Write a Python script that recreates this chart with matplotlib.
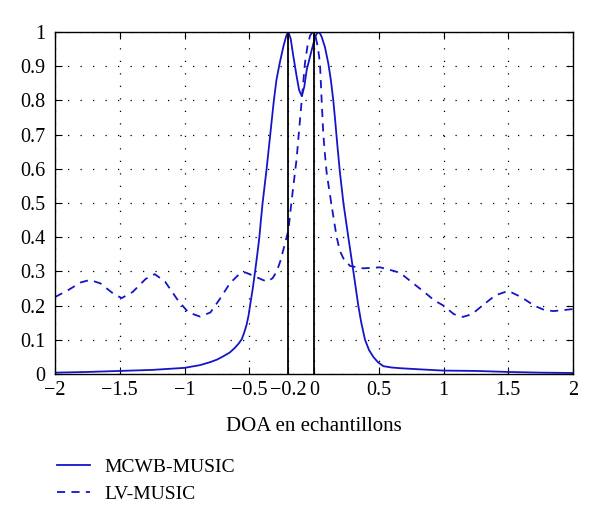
import matplotlib.pyplot as plt

plt.rcParams['font.family'] = ['Liberation Serif', 'DejaVu Serif']

# MCWB-MUSIC (trait plein)
mcwb_x = [-2.0, -1.75, -1.5, -1.25, -1.0, -0.88, -0.8, -0.75, -0.7, -0.65, -0.61, -0.58,
          -0.558, -0.54, -0.52, -0.505, -0.494, -0.473, -0.455, -0.438, -0.422, -0.41,
          -0.397, -0.366, -0.338, -0.31, -0.29, -0.265, -0.235, -0.213, -0.198, -0.18,
          -0.16, -0.134, -0.115, -0.095, -0.075, -0.056, -0.036, -0.018, 0.005, 0.02,
          0.041, 0.06, 0.085, 0.11, 0.13, 0.149, 0.165, 0.18, 0.2, 0.227, 0.265, 0.304,
          0.342, 0.365, 0.394, 0.425, 0.458, 0.495, 0.535, 0.6, 0.664, 0.8, 1.0, 1.25,
          1.5, 1.75, 2.0]
mcwb_y = [0.004, 0.006, 0.009, 0.012, 0.018, 0.026, 0.035, 0.042, 0.052, 0.063, 0.077, 0.09,
          0.102, 0.12, 0.145, 0.172, 0.2, 0.25, 0.3, 0.35, 0.4, 0.45,
          0.5, 0.6, 0.7, 0.8, 0.86, 0.909, 0.96, 0.99, 1.0, 0.98,
          0.93, 0.87, 0.83, 0.813, 0.84, 0.89, 0.92, 0.947, 0.98, 0.995,
          1.0, 0.985, 0.955, 0.909, 0.86, 0.8, 0.735, 0.67, 0.59, 0.5, 0.4, 0.3,
          0.2, 0.15, 0.1, 0.07, 0.05, 0.034, 0.023, 0.019, 0.017, 0.014, 0.01, 0.009,
          0.006, 0.004, 0.003]

# LV-MUSIC (tirets)
lv_x = [-2.0, -1.9, -1.8, -1.73, -1.65, -1.55, -1.485, -1.4, -1.3, -1.23, -1.15, -1.05,
        -0.97, -0.88, -0.8, -0.726, -0.65, -0.57, -0.53, -0.455, -0.365, -0.32, -0.288,
        -0.26, -0.237, -0.198, -0.172, -0.134, -0.125, -0.095, -0.07, -0.05, -0.03, -0.01,
        0.01, 0.03, 0.046, 0.059, 0.072, 0.085, 0.098, 0.137, 0.175, 0.2, 0.227, 0.278,
        0.38, 0.51, 0.6, 0.664, 0.75, 0.85, 0.93, 1.0, 1.08, 1.15, 1.22, 1.3, 1.4, 1.5,
        1.6, 1.7, 1.78, 1.85, 1.93, 2.0]
lv_y = [0.225, 0.245, 0.268, 0.275, 0.265, 0.235, 0.222, 0.24, 0.278, 0.292, 0.27, 0.215,
        0.18, 0.168, 0.18, 0.22, 0.265, 0.295, 0.297, 0.285, 0.27, 0.28, 0.3,
        0.33, 0.363, 0.42, 0.51, 0.63, 0.67, 0.8, 0.909, 0.96, 0.99, 1.0,
        0.99, 0.955, 0.909, 0.8, 0.7, 0.64, 0.587, 0.49, 0.4, 0.36, 0.338, 0.316,
        0.309, 0.312, 0.303, 0.296, 0.27, 0.24, 0.215, 0.2, 0.175, 0.167, 0.175, 0.2, 0.23, 0.243,
        0.225, 0.2, 0.187, 0.184, 0.187, 0.19]

x_ticks = [-2, -1.5, -1, -0.5, -0.2, 0, 0.5, 1, 1.5, 2]
x_labels = ['−2', '−1.5', '−1', '−0.5', '−0.2', '0', '0.5', '1', '1.5', '2']
y_ticks = [0, 0.1, 0.2, 0.3, 0.4, 0.5, 0.6, 0.7, 0.8, 0.9, 1]
y_labels = ['0', '0.1', '0.2', '0.3', '0.4', '0.5', '0.6', '0.7', '0.8', '0.9', '1']
markers_x = [-0.2, 0]

fig = plt.figure(figsize=(6, 5.22), dpi=100)
ax = fig.add_axes([0.0917, 0.2835, 0.8633, 0.6552])

blue = '#1515c8'
l1, = ax.plot(mcwb_x, mcwb_y, color=blue, lw=1.3, label='MCWB-MUSIC')
l2, = ax.plot(lv_x, lv_y, color=blue, lw=1.3, ls=(0, (4.5, 3.5)), label='LV-MUSIC')
for xv in markers_x:
    ax.plot([xv, xv], [0, 1], color='black', lw=1.3)

ax.set_xlim(-2, 2)
ax.set_ylim(0, 1)
ax.set_xticks(x_ticks)
ax.set_xticklabels(x_labels)
ax.set_yticks(y_ticks)
ax.set_yticklabels(y_labels)
ax.grid(True, color='black', ls=(0, (1, 9)), lw=0.9)
ax.tick_params(direction='in', top=True, right=True, length=5, labelsize=14.5)
ax.tick_params(axis='x', pad=5)
ax.tick_params(axis='y', pad=7)
for s in ax.spines.values():
    s.set_linewidth(1.0)
ax.set_xlabel('DOA en echantillons', fontsize=15, labelpad=12)

fig.legend(handles=[l1, l2], loc='upper left', bbox_to_anchor=(0.095, 0.122),
           bbox_transform=fig.transFigure, frameon=False, fontsize=14,
           handlelength=1.7, handletextpad=0.75, labelspacing=0.5,
           borderpad=0, borderaxespad=0)

fig.savefig('out.png', dpi=100)
